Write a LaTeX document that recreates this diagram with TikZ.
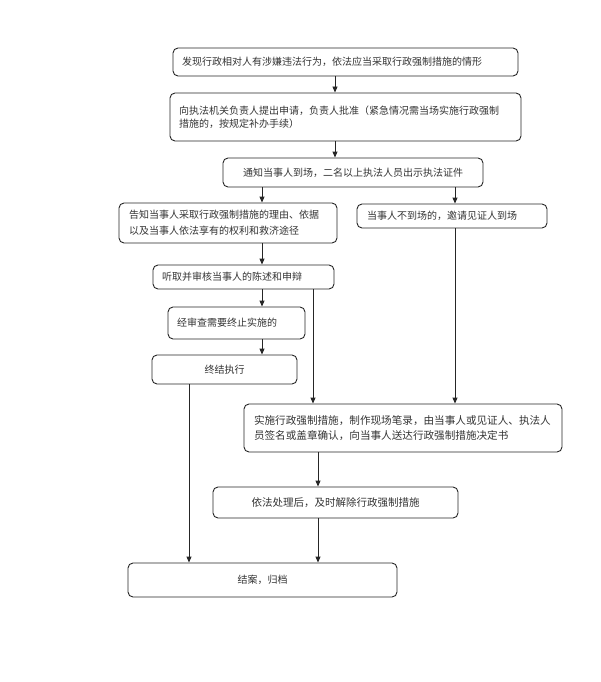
\documentclass[tikz,border=0pt]{standalone}
\usepackage{fontspec}
\setmainfont{Noto Sans CJK SC}
\usetikzlibrary{arrows.meta}
\tikzset{
  box/.style={draw=black!85, line width=0.9pt, rounded corners=5pt, inner ysep=0pt,
    font=\fontsize{10pt}{13pt}\selectfont, text=black!80},
  arr/.style={draw=black!85, line width=0.9pt, -{Triangle[length=6pt,width=5pt]}},
  ln/.style={draw=black!85, line width=0.9pt}
}
\begin{document}
\begin{tikzpicture}[x=1pt,y=-1pt]
\useasboundingbox (0,0) rectangle (600,682);
% boxes
\node[box, minimum width=345pt, minimum height=28pt, text width=327pt, inner xsep=9pt, align=left] (b1) at (345.5,62) {发现行政相对人有涉嫌违法行为，依法应当采取行政强制措施的情形};
\node[box, minimum width=351pt, minimum height=48pt, text width=333pt, inner xsep=9pt, align=left] (b2) at (345.5,117) {向执法机关负责人提出申请，负责人批准（紧急情况需当场实施行政强制\\措施的，按规定补办手续）};
\node[box, minimum width=260pt, minimum height=29pt, text width=244pt, inner xsep=8pt, align=center] (b3) at (353,172.5) {通知当事人到场，二名以上执法人员出示执法证件};
\node[box, minimum width=218pt, minimum height=40pt, text width=198pt, inner xsep=10pt, align=left, font=\fontsize{10pt}{16pt}\selectfont] (b4) at (228,223) {告知当事人采取行政强制措施的理由、依据\\以及当事人依法享有的权利和救济途径};
\node[box, minimum width=190pt, minimum height=24pt, text width=170pt, inner xsep=10pt, align=left] (b5) at (452,216) {当事人不到场的，邀请见证人到场};
\node[box, minimum width=181pt, minimum height=24pt, text width=163pt, inner xsep=9pt, align=left] (b6) at (243.5,277) {听取并审核当事人的陈述和申辩};
\node[box, minimum width=137pt, minimum height=32pt, text width=119pt, inner xsep=9pt, align=left] (b7) at (236.5,323) {经审查需要终止实施的};
\node[box, minimum width=145pt, minimum height=29pt, text width=129pt, inner xsep=8pt, align=center] (b8) at (224.5,369.5) {终结执行};
\node[box, minimum width=318pt, minimum height=48pt, text width=298pt, inner xsep=10pt, align=left, font=\fontsize{10.6pt}{15pt}\selectfont] (b9) at (403,428) {实施行政强制措施，制作现场笔录，由当事人或见证人、执法人\\员签名或盖章确认，向当事人送达行政强制措施决定书};
\node[box, minimum width=245pt, minimum height=31pt, text width=229pt, inner xsep=8pt, align=center, font=\fontsize{10.5pt}{13pt}\selectfont] (b10) at (335.5,502.5) {依法处理后，及时解除行政强制措施};
\node[box, minimum width=269pt, minimum height=34pt, text width=253pt, inner xsep=8pt, align=center] (b11) at (262.5,580) {结案，归档};
% connector x positions
\coordinate (xa) at (335,0);
\coordinate (xb) at (262,0);
\coordinate (xc) at (455,0);
\coordinate (xd) at (313,0);
\coordinate (xe) at (189,0);
\coordinate (xf) at (318,0);
% connectors
\draw[arr] (b1.south -| xa) -- (b2.north -| xa);
\draw[arr] (b2.south -| xa) -- (b3.north -| xa);
\draw[arr] (b3.south -| xb) -- (b4.north -| xb);
\draw[arr] (b3.south -| xc) -- (b5.north -| xc);
\draw[arr] (b4.south -| xb) -- (b6.north -| xb);
\draw[arr] (b6.south -| xb) -- (b7.north -| xb);
\draw[arr] (b7.south -| xb) -- (b8.north -| xb);
\draw[arr] (b6.south -| xd) -- (b9.north -| xd);
\draw[arr] (b5.south -| xc) -- (b9.north -| xc);
\draw[arr] (b8.south -| xe) -- (b11.north -| xe);
\draw[arr] (b9.south -| xf) -- (b10.north -| xf);
\draw[arr] (b10.south -| xf) -- (b11.north -| xf);
\end{tikzpicture}
\end{document}
